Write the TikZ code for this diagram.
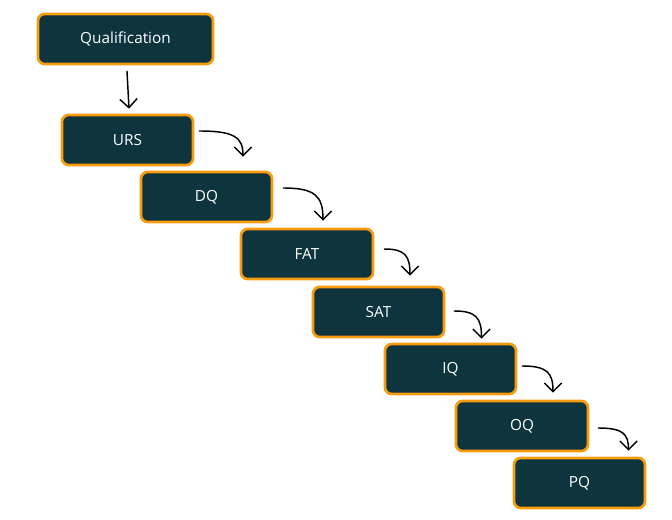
\documentclass[tikz,border=0pt]{standalone}
\usepackage{fontspec}
\setmainfont{Open Sans}
\usetikzlibrary{arrows.meta,calc}
\definecolor{boxfill}{HTML}{0E343D}
\definecolor{boxline}{HTML}{F79C0E}
\tikzset{
  stage/.style={draw=boxline, fill=boxfill, line width=2pt, rounded corners=5pt,
    minimum height=50*0.75pt, text=white, font=\fontsize{11.5}{13}\selectfont, inner sep=0pt},
  link/.style={draw=black, line width=1.1pt, line cap=round, -{Straight Barb[length=6.5pt,width=13pt]}}
}
\newcommand{\steplink}[2]{%
  \draw[link] (#1) .. controls ($(#1)!0.8!(#2 |- #1)$) and ($(#2)!0.75!(#2 |- #1)$) .. (#2);}
\begin{document}
\begin{tikzpicture}[x=0.75pt,y=-0.75pt]
\useasboundingbox (0,0) rectangle (672,520);
\node[stage, minimum width=175*0.75pt] (qual) at (125.5,39) {Qualification};
\node[stage, minimum width=131*0.75pt] (urs) at (127.5,140) {URS};
\node[stage, minimum width=131*0.75pt] (dq) at (206.5,197) {DQ};
\node[stage, minimum width=132*0.75pt] (fat) at (307,254) {FAT};
\node[stage, minimum width=131*0.75pt] (sat) at (378.5,312) {SAT};
\node[stage, minimum width=131*0.75pt] (iq) at (450.5,369) {IQ};
\node[stage, minimum width=132*0.75pt] (oq) at (522,426) {OQ};
\node[stage, minimum width=131*0.75pt] (pq) at (579.5,483) {PQ};
\coordinate (s1) at ([shift={(5,-9)}]urs.east);
\coordinate (e1) at ([shift={(36.5,-14)}]dq.north);
\coordinate (s2) at ([shift={(10,-9)}]dq.east);
\coordinate (e2) at ([shift={(16,-7)}]fat.north);
\coordinate (s3) at ([shift={(10,-5)}]fat.east);
\coordinate (e3) at ([shift={(31.5,-10)}]sat.north);
\coordinate (s4) at ([shift={(9,-1)}]sat.east);
\coordinate (e4) at ([shift={(31,-4)}]iq.north);
\coordinate (s5) at ([shift={(5,-3)}]iq.east);
\coordinate (e5) at ([shift={(31,-7)}]oq.north);
\coordinate (s6) at ([shift={(9,2)}]oq.east);
\coordinate (e6) at ([shift={(49,-6)}]pq.north);
\draw[link] ([shift={(1.5,6)}]qual.south) -- ([shift={(1.5,-5)}]urs.north);
\steplink{s1}{e1}
\steplink{s2}{e2}
\steplink{s3}{e3}
\steplink{s4}{e4}
\steplink{s5}{e5}
\steplink{s6}{e6}
\end{tikzpicture}
\end{document}
